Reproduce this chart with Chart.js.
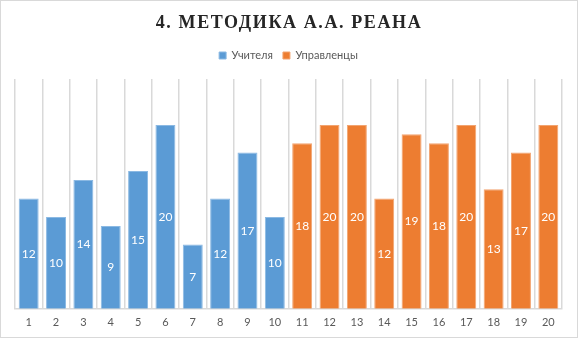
<!DOCTYPE html>
<html>
<head>
<meta charset="utf-8">
<script src="https://cdn.jsdelivr.net/npm/chart.js@4/dist/chart.umd.min.js"></script>
<style>
  body { margin: 0; background: #fff; }
  #wrap { width: 578px; height: 338px; position: relative; }
</style>
</head>
<body>
<div id="wrap"><canvas id="chart" width="578" height="338"></canvas></div>
<script>
var chartTitle = '4. МЕТОДИКА А.А. РЕАНА';
var categories = ['1','2','3','4','5','6','7','8','9','10','11','12','13','14','15','16','17','18','19','20'];
var teachers = [12, 10, 14, 9, 15, 20, 7, 12, 17, 10, null, null, null, null, null, null, null, null, null, null];
var managers = [null, null, null, null, null, null, null, null, null, null, 18, 20, 20, 12, 19, 18, 20, 13, 17, 20];

// подписи значений в середине столбца + заголовок с разрядкой
var extras = {
    id: 'extras',
    afterInit: function (chart) {
        // лишнее место под легендой
        var lg = chart.legend;
        if (lg) {
            var origFit = lg.fit;
            lg.fit = function () {
                origFit.call(this);
                this.height += 8;
            };
        }
    },
    afterDatasetsDraw: function (chart) {
        var ctx = chart.ctx;
        ctx.save();
        ctx.font = '12px Lato';
        ctx.fillStyle = '#ffffff';
        ctx.textAlign = 'center';
        ctx.textBaseline = 'middle';
        chart.data.datasets.forEach(function (ds, i) {
            chart.getDatasetMeta(i).data.forEach(function (bar, j) {
                if (ds.data[j] == null) return;
                ctx.fillText(ds.data[j], bar.x, (bar.y + bar.base) / 2);
            });
        });
        ctx.restore();
    },
    afterDraw: function (chart) {
        var ctx = chart.ctx;
        ctx.save();
        ctx.font = 'bold 18px "Liberation Serif"';
        ctx.letterSpacing = '1.6px';
        ctx.fillStyle = '#262626';
        ctx.textAlign = 'center';
        ctx.textBaseline = 'middle';
        ctx.fillText(chartTitle, chart.width / 2, 23);
        ctx.restore();
        ctx.save();
        ctx.strokeStyle = '#d9d9d9';
        ctx.lineWidth = 1;
        ctx.strokeRect(0.5, 0.5, chart.width - 1, chart.height - 1);
        ctx.restore();
    }
};

var myChart = document.getElementById('chart').getContext('2d');
var massChart = new Chart(myChart, {
    type: 'bar',
    data: {
        labels: categories,
        datasets: [{
            label: 'Учителя',
            data: teachers,
            backgroundColor: '#5B9BD5',
            borderColor: '#8bb9e3',
            borderWidth: 1
        }, {
            label: 'Управленцы',
            data: managers,
            backgroundColor: '#ED7D31',
            borderColor: '#f2a470',
            borderWidth: 1
        }]
    },
    options: {
        responsive: false,
        animation: false,
        devicePixelRatio: 1,
        datasets: {
            bar: { barPercentage: 0.73, categoryPercentage: 1 }
        },
        layout: {
            padding: { top: 40, left: 15, right: 16, bottom: 2 }
        },
        plugins: {
            title: { display: false },
            tooltip: { enabled: false },
            legend: {
                position: 'top',
                labels: {
                    boxWidth: 7,
                    boxHeight: 7,
                    padding: 10,
                    color: '#595959',
                    font: { family: 'Lato', size: 11 }
                }
            }
        },
        scales: {
            x: {
                stacked: true,
                grid: { color: '#d9d9d9', lineWidth: 1.5, drawTicks: false },
                border: { color: '#d9d9d9', width: 1.5 },
                ticks: { color: '#595959', padding: 7, autoSkip: false, maxRotation: 0, font: { family: 'Lato', size: 11 } }
            },
            y: {
                stacked: true,
                display: false,
                min: 0,
                max: 25
            }
        }
    },
    plugins: [extras]
});
</script>
</body>
</html>
